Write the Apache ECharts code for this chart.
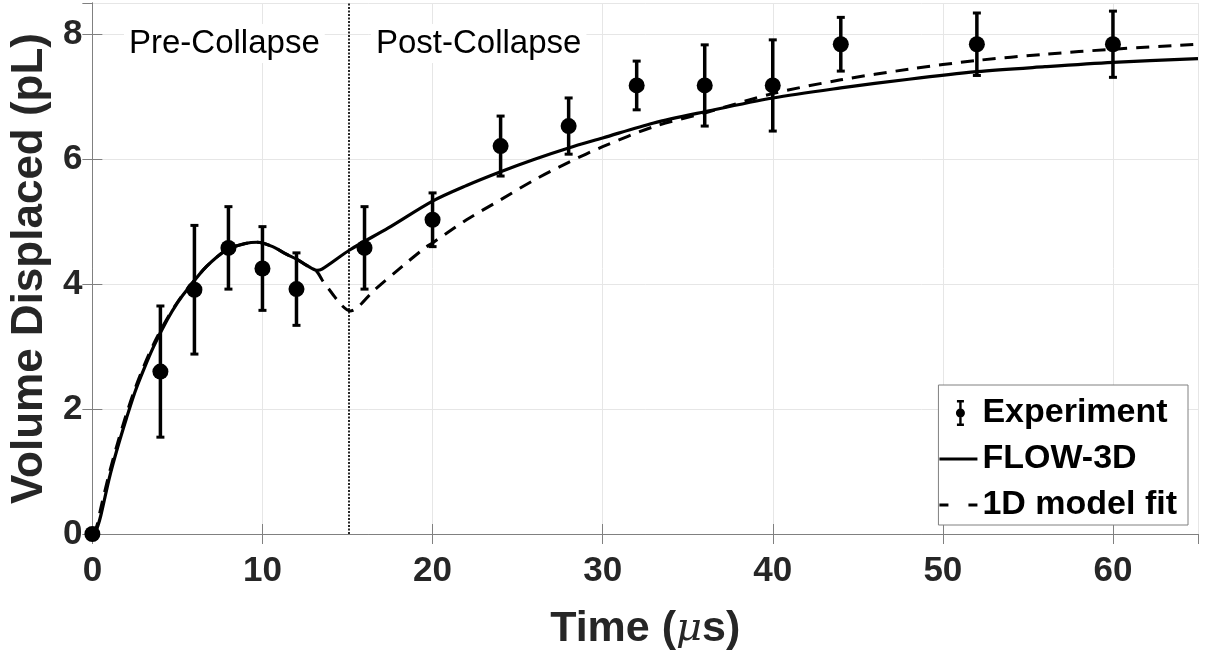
<!DOCTYPE html>
<html>
<head>
<meta charset="utf-8">
<script src="https://cdn.jsdelivr.net/npm/echarts@6/dist/echarts.min.js"></script>
<style>
  html, body { margin: 0; padding: 0; background: #fff; }
  #chart { width: 1205px; height: 657px; }
</style>
</head>
<body>
<div id="chart"></div>
<script>
// Experimental displacement measurements (time in µs, volume in pL, ± error)
const expTime = [0, 4, 6, 8, 10, 12, 16, 20, 24, 28, 32, 36, 40, 44, 52, 60];
const expVolume = [0, 2.6, 3.91, 4.58, 4.25, 3.92, 4.58, 5.03, 6.21, 6.53, 7.18, 7.18, 7.18, 7.84, 7.84, 7.84];
const expError = [0, 1.05, 1.03, 0.66, 0.67, 0.58, 0.66, 0.43, 0.48, 0.45, 0.39, 0.65, 0.73, 0.43, 0.5, 0.53];

// FLOW-3D simulation curve
const flowTime = [0, 0.25, 0.5, 1, 1.5, 2, 2.5, 3, 3.6, 4.4, 5, 5.6, 6.7, 7.9, 9, 9.7, 10.6, 11.4, 12, 12.6, 13.2, 13.5,
  15.15, 17.4, 20, 22, 24, 26, 28, 30, 33, 36, 40, 44, 48, 52, 56, 60, 65];
const flowVolume = [0, 0.08, 0.3, 0.9, 1.4, 1.85, 2.27, 2.62, 3.0, 3.43, 3.7, 3.92, 4.28, 4.55, 4.65, 4.67, 4.6, 4.48, 4.4, 4.3, 4.22, 4.24,
  4.55, 4.9, 5.33, 5.58, 5.8, 6.0, 6.18, 6.34, 6.58, 6.76, 6.98, 7.14, 7.28, 7.4, 7.48, 7.55, 7.61];

// 1D model fit curve
const fitTime = [0, 0.25, 0.5, 1, 1.5, 2, 2.5, 3, 3.6, 4.4, 5, 5.6, 6.7, 7.9, 9, 9.7, 10.6, 11.4, 12, 12.6, 13.2, 13.5,
  14.1, 14.66, 15.15, 16.6, 18.2, 19.5, 20, 22, 24, 26, 28, 30, 33, 36, 40, 44, 48, 52, 56, 60, 65];
const fitVolume = [0, 0.12, 0.42, 0.98, 1.47, 1.92, 2.32, 2.67, 3.04, 3.45, 3.71, 3.93, 4.28, 4.55, 4.65, 4.67, 4.6, 4.48, 4.4, 4.3, 4.2, 4.07,
  3.85, 3.66, 3.57, 3.91, 4.28, 4.57, 4.66, 5.03, 5.35, 5.67, 5.95, 6.2, 6.52, 6.74, 7.05, 7.27, 7.44, 7.58, 7.68, 7.76, 7.84];

// Bubble collapse instant separating the two regimes
const collapseTime = 15.1;

const xTicks = { min: 0, max: 65, interval: 10 };
const yTicks = { min: 0, max: 8.5, interval: 2 };

const FONT = '"Liberation Sans", Arial, Helvetica, sans-serif';
const AXIS_GRAY = '#808080';
const TEXT_DARK = '#262626';

const zip = (xs, ys) => xs.map((x, i) => [x, ys[i]]);
const expRows = expTime.map((t, i) => [t, expVolume[i], expError[i]]);

const chart = echarts.init(document.getElementById('chart'), null, { renderer: 'canvas' });

// Legend glyphs, each drawn inside a 38x26 box (the leading moves pin the box size)
const iconErrorBar = 'path://M0 0 M38 26 M17.5 0h7v2.4h-2.3v21.2h2.3v2.4h-7v-2.4h2.3v-21.2h-2.3z M25.5 13a4.5 4.5 0 1 1 -9 0a4.5 4.5 0 1 1 9 0z';
const iconSolid = 'path://M0 0 M38 26 M0 11.5h38v3h-38z';
const iconDashed = 'path://M0 0 M38 26 M0 11.5h9v3h-9z M29 11.5h9v3h-9z';

chart.setOption({
  animation: false,
  backgroundColor: '#ffffff',
  grid: { left: 90, right: 7, top: 3, bottom: 123, containLabel: false },
  xAxis: [
    {
      type: 'value', position: 'bottom', ...xTicks,
      name: '{b|Time (}{m|\u03bc}{b|s)}',
      nameLocation: 'middle', nameGap: 74,
      nameTextStyle: {
        rich: {
          b: { fontFamily: FONT, fontSize: 43, fontWeight: 'bold', color: TEXT_DARK },
          m: { fontFamily: 'DejaVu Serif, serif', fontSize: 40, fontStyle: 'italic', color: TEXT_DARK }
        }
      },
      axisLine: { show: true, lineStyle: { color: AXIS_GRAY, width: 1 } },
      axisTick: { show: true, inside: true, length: 10, lineStyle: { color: AXIS_GRAY } },
      axisLabel: { showMaxLabel: false, margin: 20, fontFamily: FONT, fontSize: 35, fontWeight: 'bold', color: TEXT_DARK },
      splitLine: { show: true, lineStyle: { color: '#e6e6e6', width: 1 } }
    },
    {
      type: 'value', position: 'top', ...xTicks,
      axisLine: { show: true, lineStyle: { color: AXIS_GRAY, width: 1 } },
      axisTick: { show: true, inside: true, length: 10, lineStyle: { color: AXIS_GRAY } },
      axisLabel: { show: false },
      splitLine: { show: false }
    }
  ],
  yAxis: [
    {
      type: 'value', position: 'left', ...yTicks,
      name: 'Volume Displaced (pL)',
      nameLocation: 'middle', nameGap: 35,
      nameTextStyle: { fontFamily: FONT, fontSize: 44, fontWeight: 'bold', color: TEXT_DARK },
      axisLine: { show: true, lineStyle: { color: AXIS_GRAY, width: 1 } },
      axisTick: { show: true, inside: true, length: 10, lineStyle: { color: AXIS_GRAY } },
      axisLabel: { showMaxLabel: false, margin: 10, fontFamily: FONT, fontSize: 35, fontWeight: 'bold', color: TEXT_DARK },
      splitLine: { show: true, lineStyle: { color: '#e6e6e6', width: 1 } }
    },
    {
      type: 'value', position: 'right', ...yTicks,
      axisLine: { show: true, lineStyle: { color: AXIS_GRAY, width: 1 } },
      axisTick: { show: true, inside: true, length: 10, lineStyle: { color: AXIS_GRAY } },
      axisLabel: { show: false },
      splitLine: { show: false }
    }
  ],
  legend: {
    orient: 'vertical',
    right: 17, top: 385,
    backgroundColor: '#ffffff',
    borderColor: AXIS_GRAY, borderWidth: 1,
    padding: [11, 11, 3, 1],
    itemGap: 12,
    itemWidth: 38, itemHeight: 26,
    textStyle: { fontFamily: FONT, fontSize: 34, fontWeight: 'bold', color: '#000' },
    data: [
      { name: 'Experiment', icon: iconErrorBar, itemStyle: { color: '#000', opacity: 1 } },
      { name: 'FLOW-3D', icon: iconSolid, itemStyle: { color: '#000', opacity: 1 } },
      { name: '1D model fit', icon: iconDashed, itemStyle: { color: '#000', opacity: 1 } }
    ]
  },
  graphic: [
    {
      type: 'text', left: 124, top: 24, z: 10,
      style: { text: 'Pre-Collapse', font: '33px ' + FONT, fill: '#000', backgroundColor: '#fff', padding: [3, 5, 3, 5] }
    },
    {
      type: 'text', left: 371, top: 24, z: 10,
      style: { text: 'Post-Collapse', font: '33px ' + FONT, fill: '#000', backgroundColor: '#fff', padding: [3, 5, 3, 5] }
    }
  ],
  series: [
    {
      name: 'Experiment error',
      type: 'custom',
      data: expRows,
      encode: { x: 0, y: 1 },
      renderItem: function (params, api) {
        const t = api.value(0), v = api.value(1), e = api.value(2);
        if (!e) return null;
        const top = api.coord([t, v + e]);
        const bot = api.coord([t, v - e]);
        const cap = 4;
        return {
          type: 'group',
          children: [
            { type: 'line', shape: { x1: top[0], y1: top[1], x2: bot[0], y2: bot[1] }, style: { stroke: '#000', lineWidth: 3.5 } },
            { type: 'line', shape: { x1: top[0] - cap, y1: top[1], x2: top[0] + cap, y2: top[1] }, style: { stroke: '#000', lineWidth: 3 } },
            { type: 'line', shape: { x1: bot[0] - cap, y1: bot[1], x2: bot[0] + cap, y2: bot[1] }, style: { stroke: '#000', lineWidth: 3 } }
          ]
        };
      },
      z: 3
    },
    {
      name: 'Experiment',
      type: 'scatter',
      data: zip(expTime, expVolume),
      symbol: 'circle',
      symbolSize: 16,
      itemStyle: { color: '#000', opacity: 1 },
      z: 4
    },
    {
      name: 'FLOW-3D',
      type: 'line',
      data: zip(flowTime, flowVolume),
      smooth: 0.3,
      symbol: 'none',
      showSymbol: false,
      lineStyle: { color: '#000', width: 3.2 },
      itemStyle: { color: '#000' },
      z: 5,
      markLine: {
        silent: true,
        symbol: 'none',
        label: { show: false },
        lineStyle: { color: '#111', width: 1.8, type: [2, 1.5] },
        data: [{ xAxis: collapseTime }]
      }
    },
    {
      name: '1D model fit',
      type: 'line',
      data: zip(fitTime, fitVolume),
      smooth: 0.3,
      symbol: 'none',
      showSymbol: false,
      lineStyle: { color: '#000', width: 3, type: [13, 9] },
      itemStyle: { color: '#000' },
      z: 5
    }
  ]
});
</script>
</body>
</html>
